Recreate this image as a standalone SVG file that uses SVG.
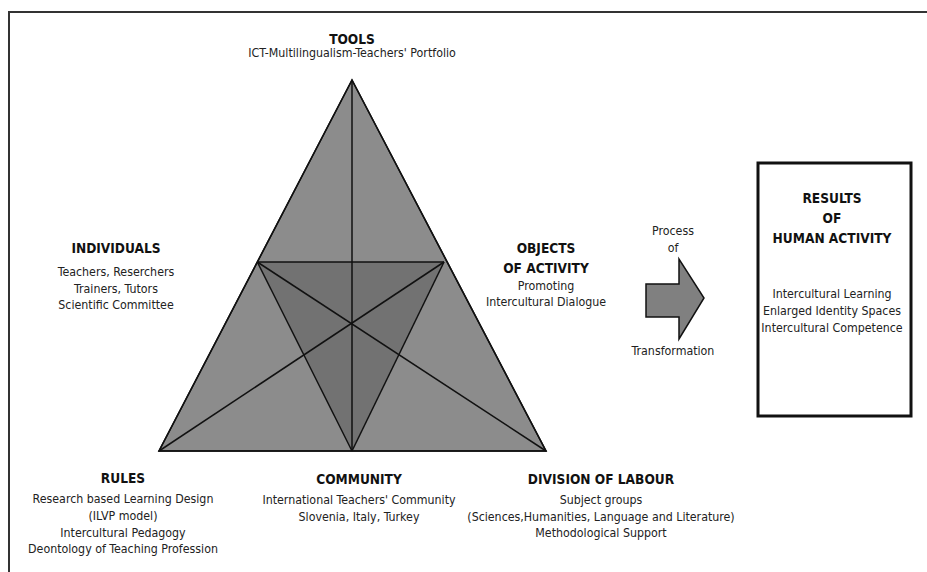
<svg xmlns="http://www.w3.org/2000/svg" width="927" height="572" viewBox="0 0 927 572">
<style>
text{font-family:"DejaVu Sans Condensed","DejaVu Sans",sans-serif;text-anchor:middle}
.t{font-size:13.6px;font-weight:bold;fill:#111}
.b{font-size:12.3px;fill:#222}
.edge{stroke:#111;stroke-width:1.5;fill:none}
</style>
<rect width="927" height="572" fill="#fff"/>
<path d="M9 572 V12 H927" fill="none" stroke="#333" stroke-width="2"/>
<g id="triangle">
<polygon points="352,80 159,451 546,451" fill="#8c8c8c" stroke="#111" stroke-width="1.5"/>
<polygon points="257.3,262 444,262 352,451" fill="#727272"/>
</g>
<g id="connectors">
<line class="edge" x1="352" y1="80" x2="352" y2="451"/>
<line class="edge" x1="257.3" y1="262" x2="444" y2="262"/>
<line class="edge" x1="257.3" y1="262" x2="352" y2="451"/>
<line class="edge" x1="444" y1="262" x2="352" y2="451"/>
<line class="edge" x1="159" y1="451" x2="444" y2="262"/>
<line class="edge" x1="546" y1="451" x2="257.3" y2="262"/>
<polygon points="352,80 159,451 546,451" class="edge"/>
</g>
<g id="tools">
<text class="t" x="352" y="44">TOOLS</text>
<text class="b" x="352" y="57">ICT-Multilingualism-Teachers' Portfolio</text>
</g>
<g id="individuals">
<text class="t" x="116" y="253">INDIVIDUALS</text>
<text class="b" x="116" y="276">Teachers, Reserchers</text>
<text class="b" x="116" y="293">Trainers, Tutors</text>
<text class="b" x="116" y="309">Scientific Committee</text>
</g>
<g id="objects">
<text class="t" x="546" y="253">OBJECTS</text>
<text class="t" x="546" y="273">OF ACTIVITY</text>
<text class="b" x="546" y="290">Promoting</text>
<text class="b" x="546" y="306">Intercultural Dialogue</text>
</g>
<g id="process">
<text class="b" x="673" y="235">Process</text>
<text class="b" x="673" y="252">of</text>
<polygon points="646,284 679,284 679,259 704,298 679,339 679,317 646,317" fill="#808080" stroke="#111" stroke-width="1.5"/>
<text class="b" x="673" y="355">Transformation</text>
</g>
<g id="results">
<rect x="758" y="163" width="153" height="253" fill="#fff" stroke="#111" stroke-width="3"/>
<text class="t" x="832" y="203">RESULTS</text>
<text class="t" x="832" y="223">OF</text>
<text class="t" x="832" y="243">HUMAN ACTIVITY</text>
<text class="b" x="832" y="298">Intercultural Learning</text>
<text class="b" x="832" y="315">Enlarged Identity Spaces</text>
<text class="b" x="832" y="332">Intercultural Competence</text>
</g>
<g id="rules">
<text class="t" x="123" y="483">RULES</text>
<text class="b" x="123" y="503">Research based Learning Design</text>
<text class="b" x="123" y="520">(ILVP model)</text>
<text class="b" x="123" y="537">Intercultural Pedagogy</text>
<text class="b" x="123" y="553">Deontology of Teaching Profession</text>
</g>
<g id="community">
<text class="t" x="359" y="484">COMMUNITY</text>
<text class="b" x="359" y="504">International Teachers' Community</text>
<text class="b" x="359" y="521">Slovenia, Italy, Turkey</text>
</g>
<g id="division">
<text class="t" x="601" y="484">DIVISION OF LABOUR</text>
<text class="b" x="601" y="504">Subject groups</text>
<text class="b" x="601" y="521">(Sciences,Humanities, Language and Literature)</text>
<text class="b" x="601" y="537">Methodological Support</text>
</g>
</svg>
